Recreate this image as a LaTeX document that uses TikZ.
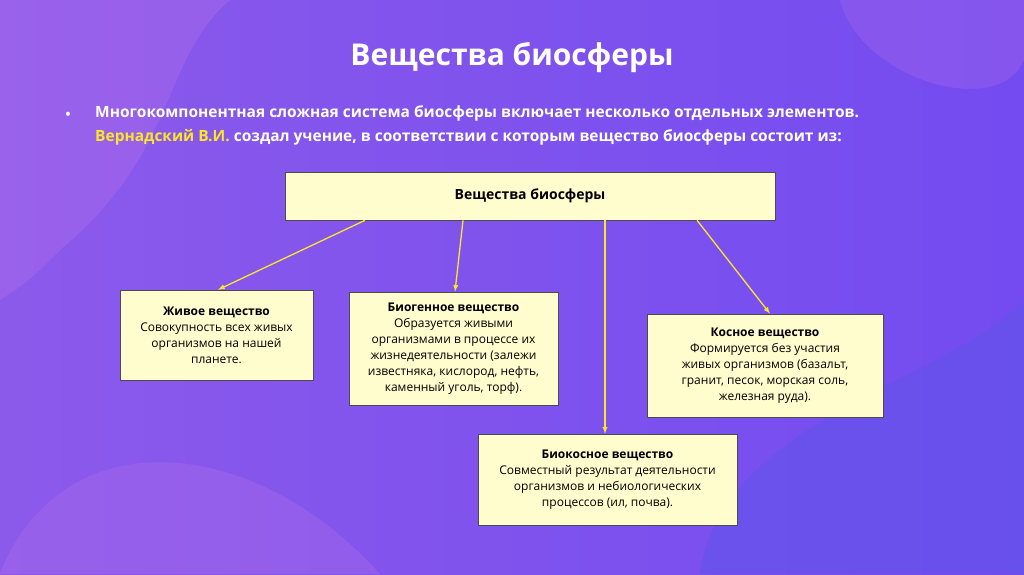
\documentclass[tikz,border=0pt]{standalone}
\usepackage{fontspec}
\setmainfont{Open Sans}
\definecolor{bgA}{RGB}{140,90,235}
\definecolor{bgB}{RGB}{115,75,240}
\definecolor{blobA}{RGB}{175,110,235}
\definecolor{blobB}{RGB}{95,85,235}
\definecolor{ylw}{RGB}{250,230,40}
\definecolor{boxf}{RGB}{255,252,205}
\begin{document}
\begin{tikzpicture}[x=1pt,y=-1pt,
  bx/.style={draw=black!70,line width=0.6pt,fill=boxf,align=center,font=\fontsize{12}{16}\selectfont,inner sep=0pt},
  ar/.style={draw=ylw,line width=1.3pt,-latex}]
\shade[left color=bgA,right color=bgB] (0,0) rectangle (1024,574);
\useasboundingbox (0,0) rectangle (1024,574);
\fill[blobA,opacity=0.4] (0,0) -- (230,0) .. controls (160,60) and (180,150) .. (60,250) .. controls (30,280) .. (0,300) -- cycle;
\fill[blobB,opacity=0.5] (700,574) .. controls (720,420) and (950,380) .. (1024,300) -- (1024,574) -- cycle;
\fill[blobA,opacity=0.35] (0,574) .. controls (60,420) and (250,430) .. (380,574) -- cycle;
\fill[blobA,opacity=0.3] (840,0) .. controls (860,80) and (1000,120) .. (1024,60) -- (1024,0) -- cycle;
\node[text=white,font=\fontsize{30}{36}\selectfont\bfseries] (title) at (512,58) {Вещества биосферы};
\node[text=white,font=\fontsize{17}{20}\selectfont] (bul) at (68,116) {•};
\node[anchor=north west,text=white,align=left,font=\fontsize{15.5}{24}\selectfont\bfseries,inner sep=0pt] (txt) at (95,105)
 {Многокомпонентная сложная система биосферы включает несколько отдельных элементов.\\
 \textcolor{ylw}{Вернадский В.И.} создал учение, в соответствии с которым вещество биосферы состоит из:};
\node[bx,minimum width=490,minimum height=48,font=\fontsize{14}{18}\selectfont\bfseries] (top) at (530,196) {Вещества биосферы};
\node[bx,minimum width=193,minimum height=90] (a) at (216.5,335) {\textbf{Живое вещество}\\Совокупность всех живых\\организмов на нашей\\планете.};
\node[bx,minimum width=209,minimum height=113] (b) at (453.5,348.5) {\textbf{Биогенное вещество}\\Образуется живыми\\организмами в процессе их\\жизнедеятельности (залежи\\известняка, кислород, нефть,\\каменный уголь, торф).};
\node[bx,minimum width=236,minimum height=103] (c) at (765,365.5) {\textbf{Косное вещество}\\Формируется без участия\\живых организмов (базальт,\\гранит, песок, морская соль,\\железная руда).};
\node[bx,minimum width=259,minimum height=91] (d) at (607.5,479.5) {\textbf{Биокосное вещество}\\Совместный результат деятельности\\организмов и небиологических\\процессов (ил, почва).};
\draw[ar] (top.south -| 365,0) -- (a.north -| 218,0);
\draw[ar] (top.south -| 463,0) -- (b.north -| 455,0);
\draw[ar] (top.south -| 605,0) -- (d.north -| 605,0);
\draw[ar] (top.south -| 697,0) -- (c.north -| 770,0);
\end{tikzpicture}
\end{document}
